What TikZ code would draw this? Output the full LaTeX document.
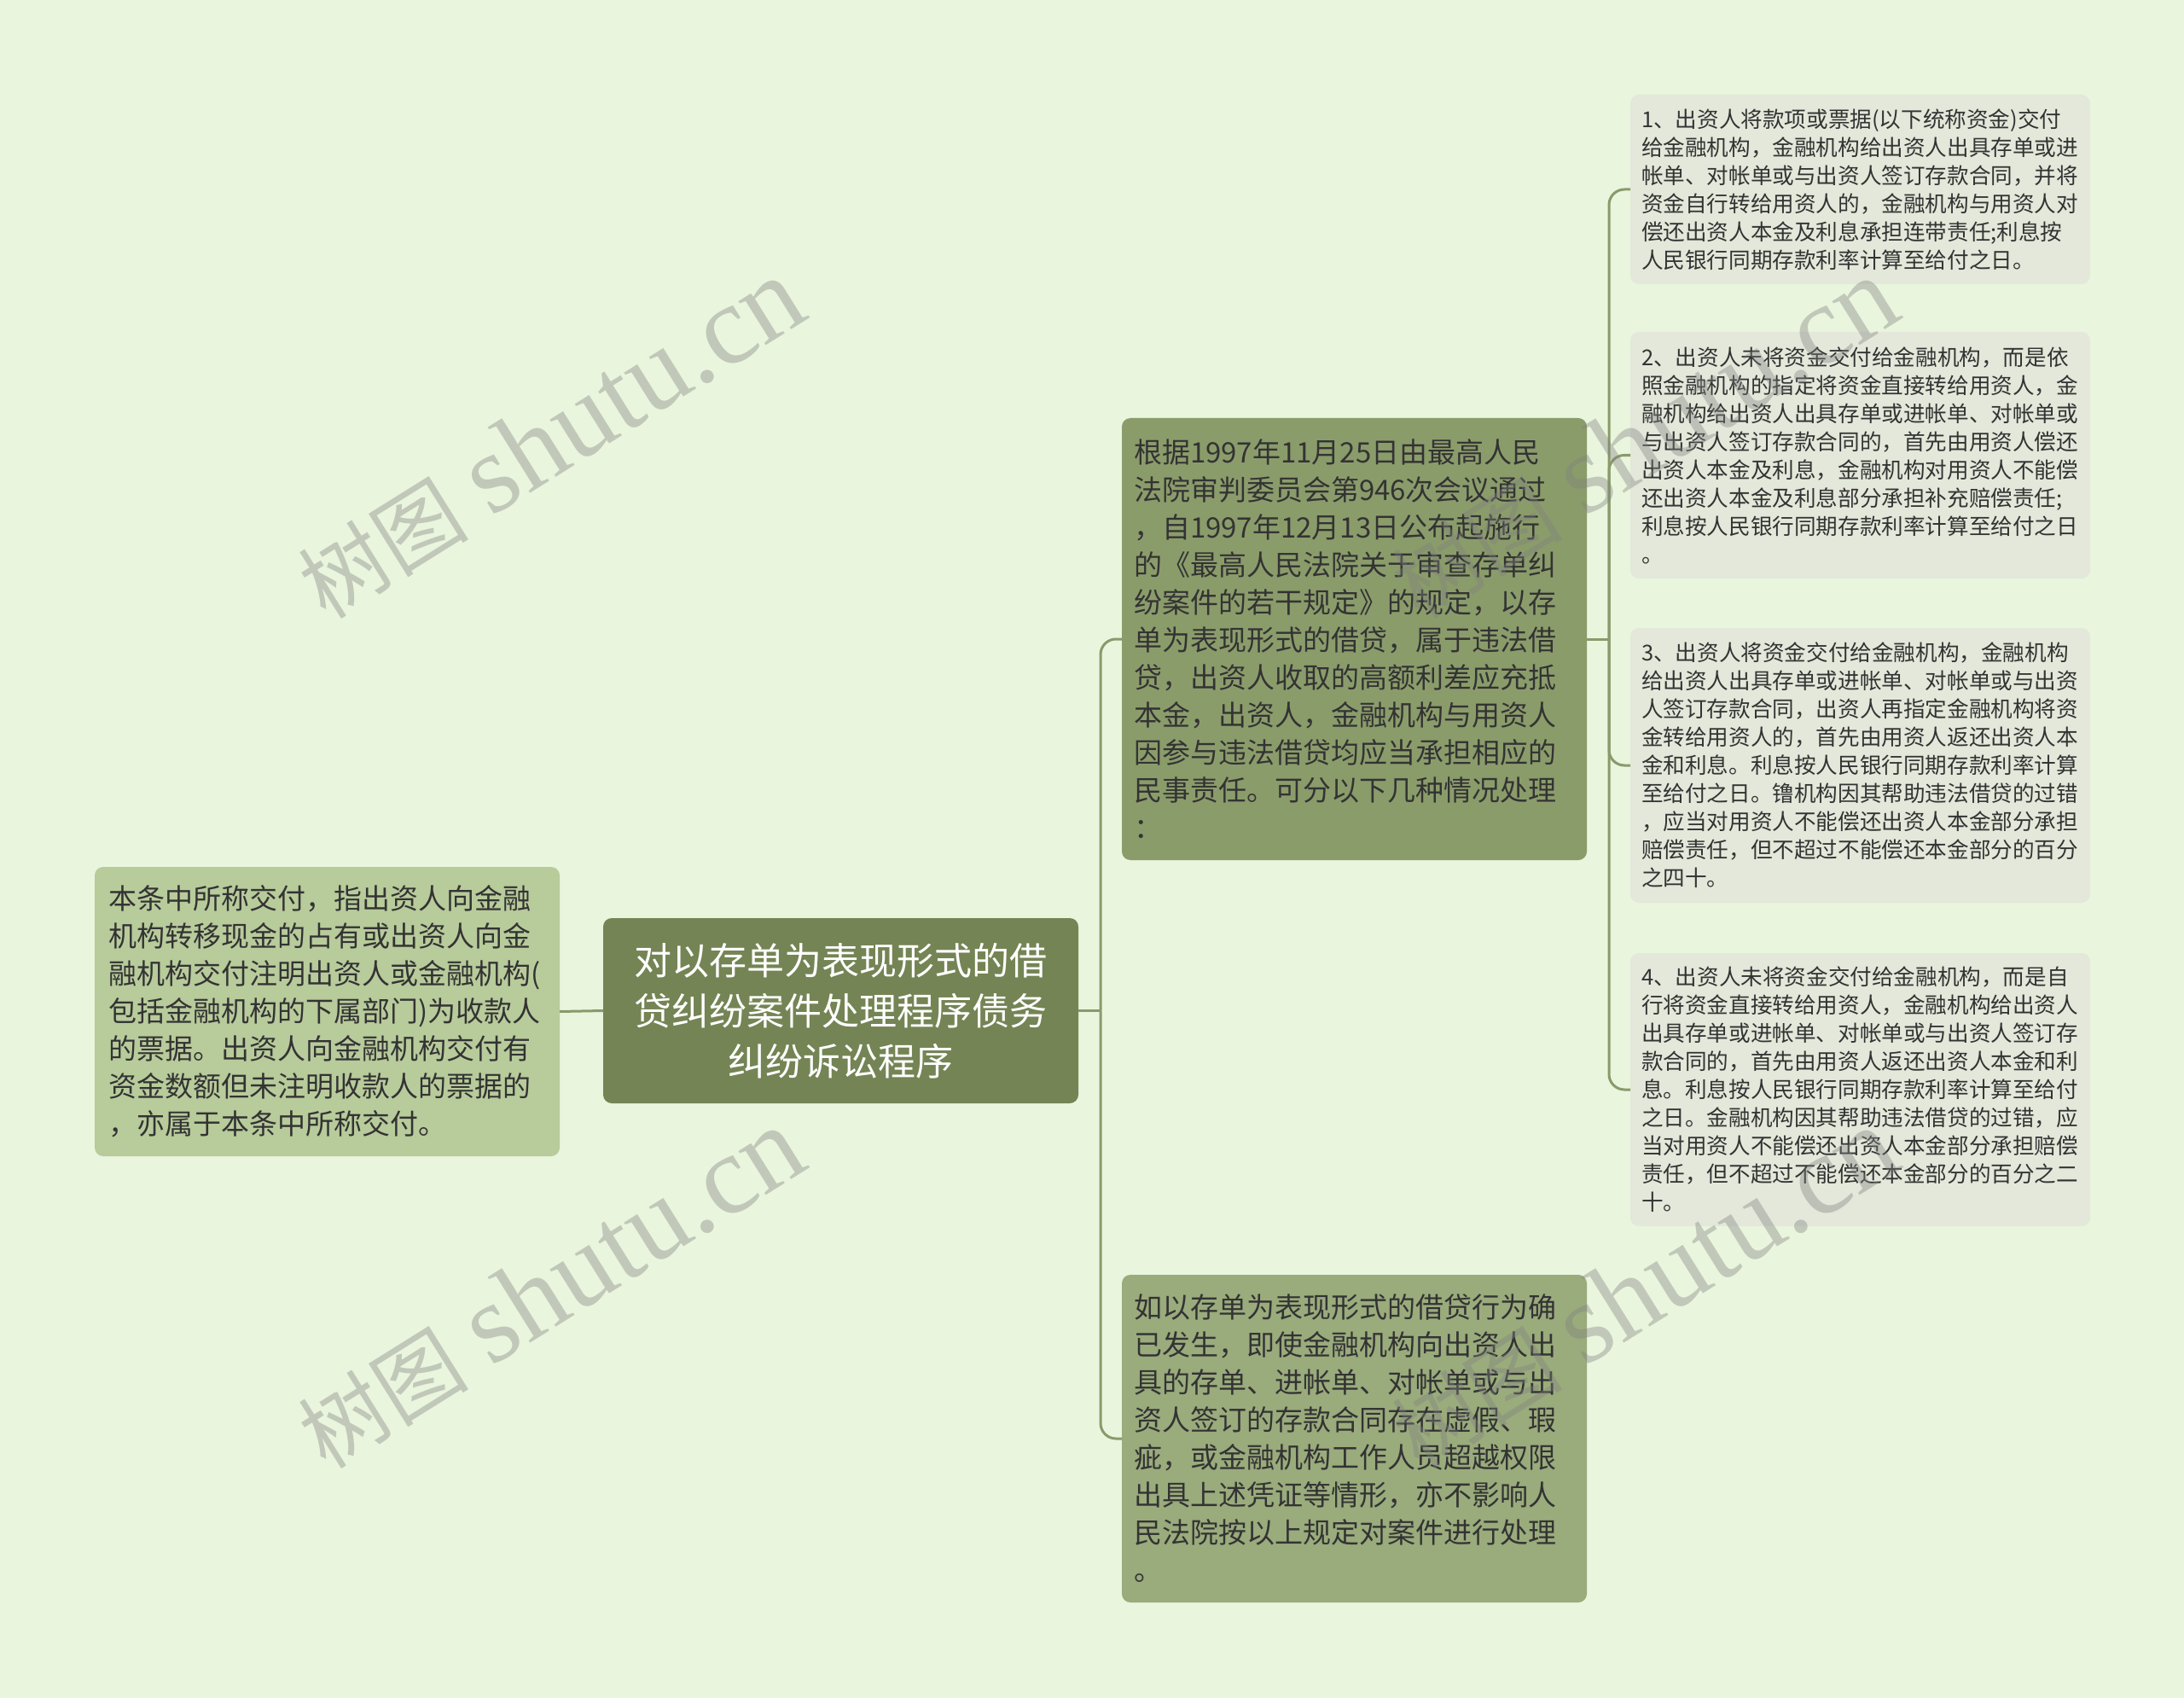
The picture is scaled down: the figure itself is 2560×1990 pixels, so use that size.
\documentclass[tikz,border=0pt]{standalone}
\usepackage{fontspec}
\setmainfont{Noto Sans CJK SC}
\newfontfamily\wmcjk{Noto Sans CJK SC}
\newfontfamily\wmlatin{Liberation Serif}
\definecolor{bgcol}{HTML}{E9F5DD}
\definecolor{rootcol}{HTML}{748454}
\definecolor{notecol}{HTML}{B8CB9B}
\definecolor{midA}{HTML}{8B9C6B}
\definecolor{midB}{HTML}{9AAB7C}
\definecolor{leafcol}{HTML}{E3E8DA}
\definecolor{linkcol}{HTML}{8A9A6A}
\definecolor{txtcol}{HTML}{333333}
\begin{document}
\begin{tikzpicture}[x=0.5pt,y=-0.5pt,
 rootbox/.style={fill=rootcol,text=white,rounded corners=5pt,outer sep=0pt,inner sep=0pt,
  minimum width=278.5pt,minimum height=108.5pt,text width=258pt,align=center,
  font=\fontsize{22}{29.5}\selectfont},
 midbox/.style={text=txtcol,rounded corners=5pt,outer sep=0pt,inner xsep=7pt,inner ysep=0pt,
  text width=258.5pt,align=left,font=\fontsize{16.5}{22}\selectfont},
 leaf/.style={fill=leafcol,text=txtcol,rounded corners=5pt,outer sep=0pt,inner xsep=6.5pt,inner ysep=0pt,
  text width=256.5pt,align=left,font=\fontsize{12.8}{16.5}\selectfont},
 link/.style={draw=linkcol,line width=1.5pt,rounded corners=9pt},
 wmark/.style={rotate=32,text=black!50,text opacity=0.38,inner sep=0pt}]
\fill[bgcol] (0,0) rectangle (2560,1990);
\useasboundingbox (0,0) rectangle (2560,1990);

\node[rootbox] (root) at (985.5,1184.5) {对以存单为表现形式的借\\贷纠纷案件处理程序债务\\纠纷诉讼程序};

\node[midbox,fill=notecol,inner xsep=8pt,text width=256.5pt,minimum height=169.5pt] (note) at (383.5,1185.5)
 {本条中所称交付，指出资人向金融\\机构转移现金的占有或出资人向金\\融机构交付注明出资人或金融机构(\\包括金融机构的下属部门)为收款人\\的票据。出资人向金融机构交付有\\资金数额但未注明收款人的票据的\\，亦属于本条中所称交付。};

\node[midbox,fill=midA,minimum height=259pt] (rule) at (1587.5,749)
 {根据1997年11月25日由最高人民\\法院审判委员会第946次会议通过\\，自1997年12月13日公布起施行\\的《最高人民法院关于审查存单纠\\纷案件的若干规定》的规定，以存\\单为表现形式的借贷，属于违法借\\贷，出资人收取的高额利差应充抵\\本金，出资人，金融机构与用资人\\因参与违法借贷均应当承担相应的\\民事责任。可分以下几种情况处理\\：};

\node[midbox,fill=midB,minimum height=192pt] (valid) at (1587.5,1686)
 {如以存单为表现形式的借贷行为确\\已发生，即使金融机构向出资人出\\具的存单、进帐单、对帐单或与出\\资人签订的存款合同存在虚假、瑕\\疵，或金融机构工作人员超越权限\\出具上述凭证等情形，亦不影响人\\民法院按以上规定对案件进行处理\\。};

\node[leaf,minimum height=111pt] (c1) at (2180.5,222)
 {1、出资人将款项或票据(以下统称资金)交付\\给金融机构，金融机构给出资人出具存单或进\\帐单、对帐单或与出资人签订存款合同，并将\\资金自行转给用资人的，金融机构与用资人对\\偿还出资人本金及利息承担连带责任;利息按\\人民银行同期存款利率计算至给付之日。};

\node[leaf,minimum height=144.5pt] (c2) at (2180.5,533.5)
 {2、出资人未将资金交付给金融机构，而是依\\照金融机构的指定将资金直接转给用资人，金\\融机构给出资人出具存单或进帐单、对帐单或\\与出资人签订存款合同的，首先由用资人偿还\\出资人本金及利息，金融机构对用资人不能偿\\还出资人本金及利息部分承担补充赔偿责任;\\利息按人民银行同期存款利率计算至给付之日\\。};

\node[leaf,minimum height=161pt] (c3) at (2180.5,897)
 {3、出资人将资金交付给金融机构，金融机构\\给出资人出具存单或进帐单、对帐单或与出资\\人签订存款合同，出资人再指定金融机构将资\\金转给用资人的，首先由用资人返还出资人本\\金和利息。利息按人民银行同期存款利率计算\\至给付之日。镥机构因其帮助违法借贷的过错\\，应当对用资人不能偿还出资人本金部分承担\\赔偿责任，但不超过不能偿还本金部分的百分\\之四十。};

\node[leaf,minimum height=160pt] (c4) at (2180.5,1277)
 {4、出资人未将资金交付给金融机构，而是自\\行将资金直接转给用资人，金融机构给出资人\\出具存单或进帐单、对帐单或与出资人签订存\\款合同的，首先由用资人返还出资人本金和利\\息。利息按人民银行同期存款利率计算至给付\\之日。金融机构因其帮助违法借贷的过错，应\\当对用资人不能偿还出资人本金部分承担赔偿\\责任，但不超过不能偿还本金部分的百分之二\\十。};

\draw[link] (root.west) -- (note.east);
\coordinate (j1) at ([xshift=13pt]root.east);
\draw[link] (root.east) -- (j1);
\draw[link] (j1) |- (rule.west);
\draw[link] (j1) |- (valid.west);
\coordinate (j2) at ([xshift=13pt]rule.east);
\draw[link] (rule.east) -- (j2);
\foreach \c in {c1,c2,c3,c4}
 \draw[link] (j2) |- (\c.west);

\foreach \wx/\wy [count=\i] in {645/514,1927/514,645/1510,1927/1510}
 \node[wmark] (wm\i) at (\wx,\wy) {{\wmcjk\fontsize{50}{50}\selectfont 树图}\hspace{14pt}{\wmlatin\fontsize{66}{66}\selectfont shutu.cn}};
\end{tikzpicture}
\end{document}
